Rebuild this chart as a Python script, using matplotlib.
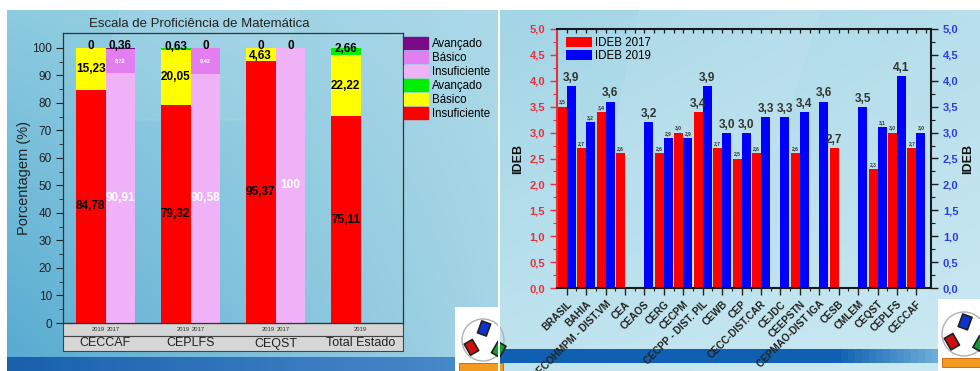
import numpy as np
import matplotlib
matplotlib.use("Agg")
import matplotlib.pyplot as plt
import matplotlib.transforms as mtransforms
from matplotlib.patches import Rectangle, Circle, FancyBboxPatch, Patch
from matplotlib import font_manager as fm

# ---------------- data: proficiency scale (percent) ----------------
escolas = ["CECCAF", "CEPLFS", "CEQST", "Total Estado"]
insuf_2019 = [84.78, 79.32, 95.37, 75.11]
basico_2019 = [15.23, 20.05, 4.63, 22.22]
avanc_2019 = [0.0, 0.63, 0.0, 2.66]
insuf_2017 = [90.91, 90.58, 100.0]
basico_2017 = [8.72, 9.42, 0.0]
avanc_2017 = [0.36, 0.0, 0.0]
anos = ["2019", "2017"]

# ---------------- data: IDEB by school ----------------
unidades = ["BRASIL", "BAHIA", "CECOHMPM - DIST.VM", "CEA", "CEAOS", "CERG",
            "CECPM", "CECPP - DIST. PIL", "CEWB", "CEP", "CECC-DIST.CAR",
            "CEJDC", "CEEPSTN", "CEPMAO-DIST IGA", "CESB", "CMLEM", "CEQST",
            "CEPLFS", "CECCAF"]
nan = np.nan
ideb_2017 = [3.5, 2.7, 3.4, 2.6, nan, 2.6, 3.0, 3.4, 2.7, 2.5, 2.6, nan,
             2.6, nan, 2.7, nan, 2.3, 3.0, 2.7]
ideb_2019 = [3.9, 3.2, 3.6, nan, 3.2, 2.9, 2.9, 3.9, 3.0, 3.0, 3.3, 3.3,
             3.4, 3.6, nan, 3.5, 3.1, 4.1, 3.0]
# value labels printed in the large font
destaque_2017 = {7, 14}
destaque_2019 = {0, 2, 4, 7, 8, 9, 10, 11, 12, 13, 15, 17}


def has_font(name):
    try:
        fm.findfont(fm.FontProperties(family=name), fallback_to_default=False)
        return True
    except Exception:
        return False


NARROW = "Liberation Sans Narrow" if has_font("Liberation Sans Narrow") else "Liberation Sans"
SANS = "Liberation Sans"
plt.rcParams["font.family"] = [SANS, "DejaVu Sans"]


def fmt(v):
    return f"{v:.2f}".rstrip("0").rstrip(".").replace(".", ",") if v != int(v) else str(int(v))


def fmt1(v):
    return f"{v:.1f}".replace(".", ",")


W, H = 980, 371
fig = plt.figure(figsize=(W / 100, H / 100), dpi=100)
fig.patch.set_facecolor("white")

# ---------------- backdrop (pixel coordinates) ----------------
bg = fig.add_axes([0, 0, 1, 1], zorder=0)
bg.set_xlim(0, W)
bg.set_ylim(H, 0)
bg.axis("off")


def gradient(x0, x1, y0, y1, tl, tr, bl, br):
    tl, tr, bl, br = (np.array(matplotlib.colors.to_rgb(c)) for c in (tl, tr, bl, br))
    u = np.linspace(0, 1, 64)[None, :, None]
    v = np.linspace(0, 1, 64)[:, None, None]
    img = (1 - v) * ((1 - u) * tl + u * tr) + v * ((1 - u) * bl + u * br)
    bg.imshow(img, extent=(x0, x1, y1, y0), aspect="auto", interpolation="bilinear", zorder=0)


gradient(7, 498, 10, 371, "#8ccbe0", "#acd9e8", "#56aad1", "#a4d4e5")
gradient(500, 980, 10, 371, "#a2d5e6", "#b7dfec", "#c0e4ef", "#cbe9f2")
# soft diagonal light streaks
bg.fill([120, 300, 260, 90], [10, 10, 120, 120], color="white", alpha=0.08, zorder=1)
bg.fill([640, 820, 760, 600], [10, 10, 200, 200], color="white", alpha=0.08, zorder=1)

# blue footer bands
c0, c1 = np.array([0.10, 0.38, 0.68]), np.array([0.30, 0.55, 0.80])
band_l = c0 + np.linspace(0, 1, 64)[None, :, None] * (c1 - c0)
bg.imshow(band_l, extent=(7, 498, 371, 357), aspect="auto", zorder=1)
d0, d1 = np.array([0.06, 0.38, 0.70]), np.array([0.45, 0.70, 0.86])
band_r = np.concatenate([np.tile(d0, (48, 1)),
                         d0 + np.linspace(0, 1, 16)[:, None] * (d1 - d0)])[None, :, :]
bg.imshow(band_r, extent=(500, 945, 363, 349), aspect="auto", zorder=1)


def logo(x0, y0, w, h, cx, cy, r):
    bg.add_patch(Rectangle((x0, y0), w, h, facecolor="white", edgecolor="none", zorder=2))
    bg.add_patch(Circle((cx, cy), r, facecolor="none", edgecolor="#b0b0b0", lw=1.0, zorder=3))
    for (dx, dy, col, ang) in [(0.05, -0.55, "#1030d0", 20), (-0.55, 0.35, "#d01010", -30),
                               (0.75, 0.45, "#10a030", 30)]:
        box = FancyBboxPatch((cx + dx * r - 0.22 * r, cy + dy * r - 0.3 * r), 0.44 * r, 0.6 * r,
                             boxstyle="round,pad=0.05", facecolor=col, edgecolor="#202020",
                             lw=1.2, zorder=4)
        t = mtransforms.Affine2D().rotate_deg_around(cx + dx * r, cy + dy * r, ang) + bg.transData
        box.set_transform(t)
        bg.add_patch(box)
    bg.add_patch(Rectangle((x0 + 4, cy + r + 2), w, 9, facecolor="#f39a20", edgecolor="#c06000",
                           lw=0.6, zorder=4))


logo(455, 307, 44, 64, 483, 340, 21)
logo(938, 299, 45, 72, 964, 334, 22)
bg.add_patch(Rectangle((497.5, 10), 2.5, 361, facecolor="white", edgecolor="none", zorder=5))

# ---------------- left chart: proficiency scale ----------------
C_INS19, C_BAS19, C_AVA19 = "#ff0000", "#ffff00", "#00ee00"
C_INS17, C_BAS17, C_AVA17 = "#f0b2f6", "#e27ef0", "#7a0a88"

axL = fig.add_axes([63 / W, 1 - 323 / H, 340 / W, 290 / H], zorder=2)
axL.patch.set_alpha(0)
bw = 0.35
xg = np.arange(len(escolas))
x19 = xg - bw / 2
x17 = xg[:len(insuf_2017)] + bw / 2

i19 = np.array(insuf_2019)
b19 = np.array(basico_2019)
a19 = np.array(avanc_2019)
i17 = np.array(insuf_2017)
b17 = np.array(basico_2017)
a17 = np.array(avanc_2017)

axL.bar(x19, i19, bw, color=C_INS19, zorder=2)
axL.bar(x19, b19, bw, bottom=i19, color=C_BAS19, zorder=2)
axL.bar(x19, a19, bw, bottom=i19 + b19, color=C_AVA19, zorder=2)
axL.bar(x17, i17, bw, color=C_INS17, zorder=2)
axL.bar(x17, b17, bw, bottom=i17, color=C_BAS17, zorder=2)
axL.bar(x17, a17, bw, bottom=i17 + b17, color=C_AVA17, zorder=2)

lab = dict(family=NARROW, fontweight="bold", ha="center", va="center", zorder=4)
for k in range(len(escolas)):
    axL.text(x19[k], i19[k] / 2, fmt(i19[k]), fontsize=8.5, color="black", **lab)
    axL.text(x19[k], i19[k] + b19[k] / 2 - (0.6 if b19[k] < 6 else 0), fmt(b19[k]),
             fontsize=8.5, color="black", **lab)
    axL.text(x19[k], i19[k] + b19[k] + a19[k] / 2 + 0.8, fmt(a19[k]), fontsize=8.5,
             color="black", **lab)
for k in range(len(insuf_2017)):
    axL.text(x17[k], i17[k] / 2, fmt(i17[k]), fontsize=8.5, color="white", **lab)
    if b17[k] > 0:
        axL.text(x17[k], i17[k] + b17[k] / 2, fmt(b17[k]), fontsize=4, color="white", **lab)
    axL.text(x17[k], i17[k] + b17[k] + a17[k] / 2 + 0.8, fmt(a17[k]), fontsize=8.5,
             color="black", **lab)

axL.set_xlim(-0.5, len(escolas) - 0.5)
axL.set_ylim(0, 105.45)
axL.set_yticks(np.arange(0, 101, 10))
axL.set_yticks(np.arange(5, 100, 10), minor=True)
axL.set_xticks([])
axL.tick_params(axis="y", which="major", direction="out", length=5, width=0.8, labelsize=8.5,
                colors="#222222", pad=3)
axL.tick_params(axis="y", which="minor", direction="out", length=3, width=0.6, colors="#222222")
for lb in axL.get_yticklabels():
    lb.set_family(NARROW)
for s in axL.spines.values():
    s.set_color("#333333")
    s.set_linewidth(0.9)
axL.set_ylabel("Porcentagem (%)", family=NARROW, fontsize=10.5, color="#222222", labelpad=1)
axL.set_title("Escala de Proficiência de Matemática", family=NARROW, fontsize=9.5,
              color="#222222", x=0.4, pad=4)

# category box under the axis
tb = mtransforms.blended_transform_factory(axL.transData, axL.transAxes)
r1, r2 = -13 / 290, -28 / 290
for y0, hgt in [(r1, -r1), (r2, r1 - r2)]:
    axL.add_patch(Rectangle((0, y0), 1, hgt, transform=axL.transAxes, facecolor="#d6d6d6",
                            edgecolor="#444444", lw=0.8, clip_on=False, zorder=1))
for k, nome in enumerate(escolas):
    axL.text(xg[k], (r1 + r2) / 2, nome, transform=tb, family=NARROW, fontsize=9,
             ha="center", va="center", color="#222222", clip_on=False)
    if k < len(insuf_2017):
        axL.text(xg[k] - 0.09, r1 / 2, anos[0], transform=tb, fontsize=4.2, ha="center",
                 va="center", color="#333333", family=NARROW, clip_on=False)
        axL.text(xg[k] + 0.09, r1 / 2, anos[1], transform=tb, fontsize=4.2, ha="center",
                 va="center", color="#333333", family=NARROW, clip_on=False)
    else:
        axL.text(xg[k], r1 / 2, anos[0], transform=tb, fontsize=4.2, ha="center",
                 va="center", color="#333333", family=NARROW, clip_on=False)

handles = [Patch(color=C_AVA17, label="Avançado"), Patch(color=C_BAS17, label="Básico"),
           Patch(color=C_INS17, label="Insuficiente"), Patch(color=C_AVA19, label="Avançado"),
           Patch(color=C_BAS19, label="Básico"), Patch(color=C_INS19, label="Insuficiente")]
axL.legend(handles=handles, loc="upper left", bbox_to_anchor=(1.003, 0.985), frameon=False,
           prop=dict(family=NARROW, size=8.3), handlelength=2.1, handleheight=1.15,
           labelspacing=0.12, handletextpad=0.3, borderaxespad=0, borderpad=0)

# ---------------- right chart: IDEB ----------------
C17, C19 = "#ff0000", "#0000ff"
RED_TXT, BLUE_TXT = "#e8303c", "#2a3ee0"
axR = fig.add_axes([557 / W, 1 - 288 / H, 374 / W, 259 / H], zorder=2)
axR.patch.set_alpha(0)
xi = np.arange(len(unidades))
wb = 0.46
v17 = np.array(ideb_2017, dtype=float)
v19 = np.array(ideb_2019, dtype=float)
axR.bar(xi - wb / 2, np.nan_to_num(v17), wb, color=C17, label="IDEB 2017", zorder=2)
axR.bar(xi + wb / 2, np.nan_to_num(v19), wb, color=C19, label="IDEB 2019", zorder=2)

for k in xi:
    if not np.isnan(v17[k]):
        big = k in destaque_2017
        axR.text(xi[k] - wb / 2, v17[k] + 0.04, fmt1(v17[k]), ha="center", va="bottom",
                 fontsize=8.5 if big else 3.6, fontweight="bold", color="#333333", zorder=4)
    if not np.isnan(v19[k]):
        big = k in destaque_2019
        axR.text(xi[k] + wb / 2, v19[k] + 0.04, fmt1(v19[k]), ha="center", va="bottom",
                 fontsize=8.5 if big else 3.6, fontweight="bold", color="#333333", zorder=4)

axR.set_xlim(-0.5, 18.75)
axR.set_ylim(0, 5.0)
yt = np.arange(0, 5.01, 0.5)
axR.set_yticks(yt)
axR.set_yticklabels([fmt1(v) for v in yt])
axR.set_yticks(np.arange(0.25, 5.0, 0.5), minor=True)
axR.set_xticks(xi)
axR.set_xticks(xi[:-1] + 0.5, minor=True)
axR.set_xticklabels(unidades, rotation=45, ha="right", rotation_mode="anchor",
                    fontsize=7.2, fontweight="bold", color="#222222")
axR.tick_params(axis="x", which="major", direction="out", length=5, width=1.0, pad=3,
                color="#222222", top=False)
axR.tick_params(axis="x", which="minor", direction="out", length=2.5, width=0.8,
                color="#222222", top=False)
axR.tick_params(axis="y", which="major", direction="out", length=5, width=1.0,
                labelsize=8, labelcolor=RED_TXT, color=RED_TXT, right=False)
axR.tick_params(axis="y", which="minor", direction="out", length=3, width=0.8,
                color=RED_TXT, right=False)
for lb in axR.get_yticklabels():
    lb.set_fontweight("bold")
axR.spines["left"].set_color(RED_TXT)
for s in ("top", "right", "bottom"):
    axR.spines[s].set_color("#1a1a1a")
for s in axR.spines.values():
    s.set_linewidth(1.5)
axR.set_ylabel("IDEB", fontsize=9, fontweight="bold", color="#111111", labelpad=4)

# inward ticks along the top frame
top = axR.secondary_xaxis("top")
top.set_xticks(np.arange(0, 18.6, 0.5))
top.tick_params(axis="x", direction="in", length=3, width=0.9, color="#1a1a1a",
                labeltop=False)
top.spines["top"].set_visible(False)

axR2 = axR.twinx()
axR2.set_ylim(0, 5.0)
axR2.set_yticks(yt)
axR2.set_yticklabels([fmt1(v) for v in yt])
axR2.set_yticks(np.arange(0.25, 5.0, 0.5), minor=True)
axR2.tick_params(axis="y", which="major", direction="out", length=5, width=1.0,
                 labelsize=8, labelcolor=BLUE_TXT, color="#1a1a1a")
axR2.tick_params(axis="y", which="minor", direction="out", length=3, width=0.8,
                 color="#1a1a1a")
for lb in axR2.get_yticklabels():
    lb.set_fontweight("bold")
for s in axR2.spines.values():
    s.set_visible(False)
axR2.set_ylabel("IDEB", fontsize=9, fontweight="bold", color="#111111", rotation=90,
                labelpad=3)

axR.legend(loc="upper left", bbox_to_anchor=(0.025, 0.97), frameon=False, fontsize=8.3,
           handlelength=2.2, handleheight=1.05, labelspacing=0.05, handletextpad=0.3,
           borderaxespad=0, borderpad=0)

fig.savefig("out.png", dpi=100)
